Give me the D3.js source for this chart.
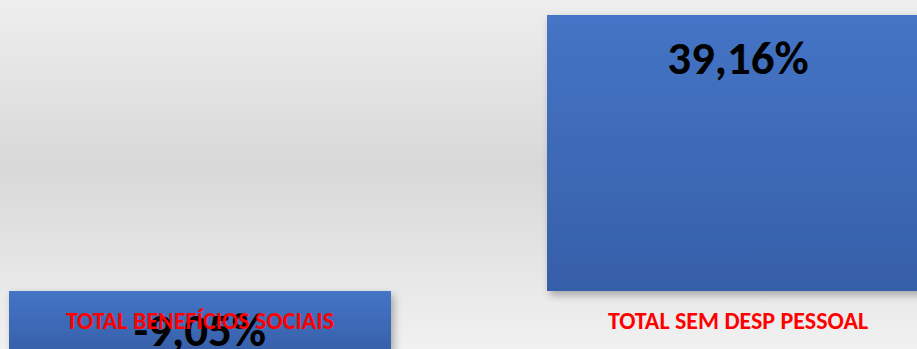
<!DOCTYPE html>
<html><head><meta charset="utf-8">
<script src="https://cdn.jsdelivr.net/npm/d3@7"></script>
<style>html,body{margin:0;padding:0;overflow:hidden;background:#e6e6e6}</style>
</head><body>
<script>
const categories = ["TOTAL BENEFÍCIOS SOCIAIS", "TOTAL SEM DESP PESSOAL"];
const values = [-9.05, 39.16];
const valueLabels = ["-9,05%", "39,16%"];

const W = 917, H = 349;
const svg = d3.select("body").append("svg").attr("width", W).attr("height", H);
const defs = svg.append("defs");

const bg = defs.append("linearGradient").attr("id","bg").attr("x1",0).attr("y1",0).attr("x2",0).attr("y2",1);
bg.append("stop").attr("offset","0%").attr("stop-color","#eeeeee");
bg.append("stop").attr("offset","48%").attr("stop-color","#d8d8d8");
bg.append("stop").attr("offset","100%").attr("stop-color","#f1f1f1");

const bar = defs.append("linearGradient").attr("id","bar").attr("x1",0).attr("y1",0).attr("x2",0).attr("y2",1);
bar.append("stop").attr("offset","0%").attr("stop-color","#4574c6");
bar.append("stop").attr("offset","100%").attr("stop-color","#365fa8");

const sh = defs.append("filter").attr("id","sh").attr("x","-10%").attr("y","-10%").attr("width","130%").attr("height","130%");
sh.append("feGaussianBlur").attr("in","SourceAlpha").attr("stdDeviation",4).attr("result","b");
sh.append("feOffset").attr("in","b").attr("dx",3).attr("dy",4).attr("result","o");
sh.append("feComponentTransfer").attr("in","o").attr("result","s").append("feFuncA").attr("type","linear").attr("slope",0.3);
const m = sh.append("feMerge"); m.append("feMergeNode").attr("in","s"); m.append("feMergeNode").attr("in","SourceGraphic");

svg.append("rect").attr("width",W).attr("height",H).attr("fill","url(#bg)");

const x = d3.scaleBand().domain(categories).range([0, 938]).paddingInner(0.29).paddingOuter(0.0167);
const y = d3.scaleLinear().domain([0, 39.16]).range([291, 15]);

const data = categories.map((c,i)=>({c, v:values[i], l:valueLabels[i]}));

svg.selectAll("rect.bar").data(data).enter().append("rect").attr("class","bar")
  .attr("x", d=>x(d.c)).attr("width", x.bandwidth())
  .attr("y", d=>Math.min(y(d.v), y(0))).attr("height", d=>Math.abs(y(d.v)-y(0)))
  .attr("fill","url(#bar)").attr("filter","url(#sh)");

const font = "Carlito, Lato, 'Open Sans', sans-serif";
svg.selectAll("text.val").data(data).enter().append("text").attr("class","val")
  .attr("x", d=>x(d.c)+x.bandwidth()/2)
  .attr("y", d=> d.v>=0 ? y(d.v)+59 : y(d.v)-9)
  .attr("text-anchor","middle").attr("font-family",font).attr("font-weight","bold")
  .attr("font-size","47px").attr("fill","#000").text(d=>d.l);

svg.selectAll("text.cat").data(data).enter().append("text").attr("class","cat")
  .attr("x", d=>x(d.c)+x.bandwidth()/2).attr("y", 329)
  .attr("text-anchor","middle").attr("font-family",font).attr("font-weight","bold")
  .attr("font-size","24px").attr("fill","#ff0000").text(d=>d.c);
</script>
</body></html>
